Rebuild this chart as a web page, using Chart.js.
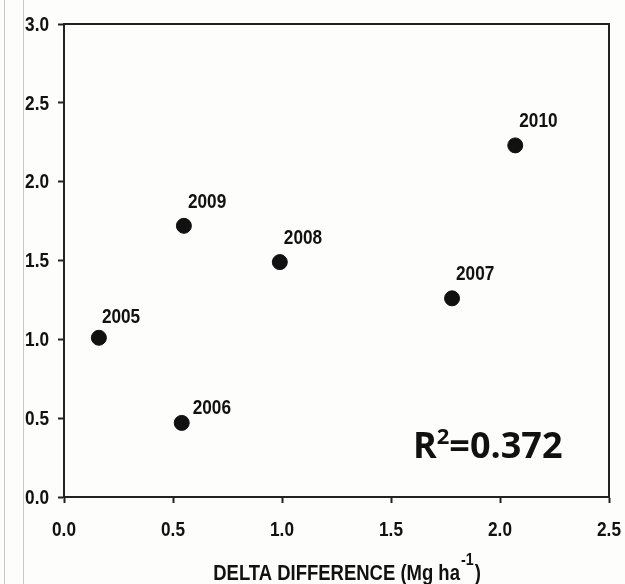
<!DOCTYPE html>
<html>
<head>
<meta charset="utf-8">
<script src="https://cdn.jsdelivr.net/npm/chart.js@4"></script>
<style>
  html, body { margin: 0; padding: 0; background: #fdfdfc; }
  #wrap { position: relative; width: 625px; height: 584px; }
  .vline { position: absolute; top: 0; bottom: 0; width: 1px; background: #c8c8c8; }
</style>
</head>
<body>
<div id="wrap">
  <div class="vline" style="left:4px"></div>
  <div class="vline" style="left:23px"></div>
  <canvas id="myChart" width="625" height="584"></canvas>
</div>
<script>
const ctx = document.getElementById("myChart").getContext("2d");

// data
const years = ["2005", "2006", "2007", "2008", "2009", "2010"];
const deltaDiff = [0.16, 0.54, 1.78, 0.99, 0.55, 2.07];
const yValues = [1.01, 0.47, 1.26, 1.49, 1.72, 2.23];
const xTicks = [0.0, 0.5, 1.0, 1.5, 2.0, 2.5];
const yTicks = [0.0, 0.5, 1.0, 1.5, 2.0, 2.5, 3.0];

const sans = "'Liberation Sans', Arial, sans-serif";
const axisColor = "#222";
let squeeze = 0.82; // narrow look

const points = years.map((y, i) => ({ x: deltaDiff[i], y: yValues[i] }));

// label offsets from the dot (px)
const labelOffset = { "2006": [11, -9], "2005": [3, -15] };

// draws text squeezed horizontally, returns its width
function narrowText(c, txt, x, y, size, align) {
  c.font = "bold " + size + "px " + sans;
  const w = c.measureText(txt).width * squeeze;
  let left = x;
  if (align === "center") left = x - w / 2;
  if (align === "right") left = x - w;
  c.save();
  c.translate(left, y);
  c.scale(squeeze, 1);
  c.textAlign = "left";
  c.fillText(txt, 0, 0);
  c.restore();
  return w;
}

const extras = {
  id: "extras",
  afterDatasetsDraw(chart) {
    const c = chart.ctx;
    const a = chart.chartArea;
    const xs = chart.scales.x, ys = chart.scales.y;
    c.save();
    // box top and right
    c.strokeStyle = axisColor;
    c.lineWidth = 2;
    c.beginPath();
    c.moveTo(a.left, a.top);
    c.lineTo(a.right, a.top);
    c.lineTo(a.right, a.bottom);
    c.stroke();

    c.fillStyle = "#111";
    squeeze = 0.82;
    // tick labels
    c.textBaseline = "middle";
    yTicks.forEach((v) => {
      narrowText(c, v.toFixed(1), 49, ys.getPixelForValue(v) + 1, 21, "right");
    });
    xTicks.forEach((v) => {
      narrowText(c, v.toFixed(1), xs.getPixelForValue(v), 530, 21, "center");
    });

    // year labels
    c.textBaseline = "alphabetic";
    years.forEach((yr, i) => {
      const px = xs.getPixelForValue(deltaDiff[i]);
      const py = ys.getPixelForValue(yValues[i]);
      const off = labelOffset[yr] || [4, -18];
      narrowText(c, yr, px + off[0], py + off[1], 21, "left");
    });

    // R² text
    c.textAlign = "left";
    c.font = "bold 36px 'Open Sans', sans-serif";
    let tx = 413, ty = 458;
    c.fillText("R", tx, ty);
    tx += c.measureText("R").width;
    c.font = "bold 22px 'Open Sans', sans-serif";
    c.fillText("2", tx, ty - 14);
    tx += c.measureText("2").width;
    c.font = "bold 36px 'Open Sans', sans-serif";
    c.fillText("=0.372", tx, ty);

    // x axis title
    squeeze = 0.84;
    const t1 = "DELTA DIFFERENCE (Mg ha";
    const sup = "-1";
    const t2 = ")";
    c.font = "bold 22px " + sans;
    const w1 = c.measureText(t1).width * squeeze;
    const w3 = c.measureText(t2).width * squeeze;
    c.font = "bold 17px " + sans;
    const w2 = c.measureText(sup).width * squeeze;
    let sx = 347 - (w1 + w2 + w3 + 2) / 2;
    const by = 580;
    sx += narrowText(c, t1, sx, by, 22, "left");
    sx += narrowText(c, sup, sx + 1, by - 15, 17, "left") + 2;
    narrowText(c, t2, sx, by, 22, "left");
    c.restore();
  }
};

const config = {
  type: "scatter",
  data: {
    datasets: [
      {
        data: points,
        backgroundColor: "#111",
        borderColor: "#111",
        pointRadius: 7.5,
        pointHoverRadius: 7.5,
      },
    ],
  },
  options: {
    responsive: false,
    animation: false,
    layout: { padding: { top: 24, right: 16, left: 0, bottom: 0 } },
    plugins: { legend: { display: false }, tooltip: { enabled: false } },
    scales: {
      x: {
        min: 0,
        max: 2.5,
        afterBuildTicks: (scale) => { scale.ticks = xTicks.map((v) => ({ value: v })); },
        afterFit: (scale) => { scale.height = 87; },
        grid: { drawOnChartArea: false, tickLength: 6, tickWidth: 2, color: axisColor },
        border: { color: axisColor, width: 2 },
        ticks: { color: "transparent", font: { size: 18 } },
      },
      y: {
        min: 0,
        max: 3,
        afterBuildTicks: (scale) => { scale.ticks = yTicks.map((v) => ({ value: v })); },
        afterFit: (scale) => { scale.width = 64; },
        grid: { drawOnChartArea: false, tickLength: 6, tickWidth: 2, color: axisColor },
        border: { color: axisColor, width: 2 },
        ticks: { color: "transparent", font: { size: 18 } },
      },
    },
  },
  plugins: [extras],
};

const myChart = new Chart(ctx, config);
</script>
</body>
</html>
